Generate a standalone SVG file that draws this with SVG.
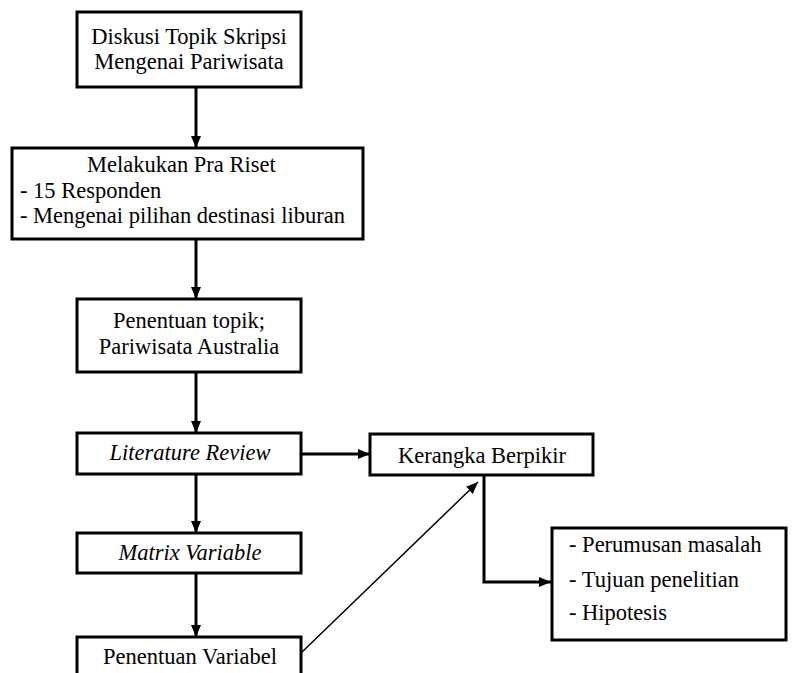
<svg xmlns="http://www.w3.org/2000/svg" width="792" height="673" viewBox="0 0 792 673">
<style>
.box{fill:#fff;stroke:#000;stroke-width:3}
.t{font-family:"Liberation Serif","Times New Roman",serif;font-size:22.5px;fill:#000}
.c{text-anchor:middle}
.i{font-style:italic}
.ln{fill:none;stroke:#000;stroke-width:3}
.thin{fill:none;stroke:#000;stroke-width:1.5}
</style>
<defs>
<marker id="ah" markerUnits="userSpaceOnUse" viewBox="0 0 12 10" refX="12" refY="5" markerWidth="12" markerHeight="10" orient="auto">
<path d="M0,0 L12,5 L0,10 Z" fill="#000"/>
</marker>
</defs>
<g id="connectors">
<path class="ln" d="M196,87 V148" marker-end="url(#ah)"/>
<path class="ln" d="M196,239 V299" marker-end="url(#ah)"/>
<path class="ln" d="M196,372 V433" marker-end="url(#ah)"/>
<path class="ln" d="M301,454 H370" marker-end="url(#ah)"/>
<path class="ln" d="M196,474 V533" marker-end="url(#ah)"/>
<path class="ln" d="M196,573 V637" marker-end="url(#ah)"/>
<path class="thin" d="M301,653 L478,482" marker-end="url(#ah)"/>
<path class="ln" d="M484,475 V582 H551" marker-end="url(#ah)"/>
</g>
<g id="n1">
<rect class="box" x="77" y="12" width="224" height="75"/>
<text class="t c" x="189" y="44">Diskusi Topik Skripsi</text>
<text class="t c" x="189" y="69">Mengenai Pariwisata</text>
</g>
<g id="n2">
<rect class="box" x="12" y="148" width="351" height="91"/>
<text class="t" x="87" y="172">Melakukan Pra Riset</text>
<text class="t" x="20" y="198">- 15 Responden</text>
<text class="t" x="20" y="223">- Mengenai pilihan destinasi liburan</text>
</g>
<g id="n3">
<rect class="box" x="77" y="299" width="224" height="73"/>
<text class="t c" x="189" y="328">Penentuan topik;</text>
<text class="t c" x="189" y="354">Pariwisata Australia</text>
</g>
<g id="n4">
<rect class="box" x="77" y="433" width="224" height="41"/>
<text class="t c i" x="190" y="460">Literature Review</text>
</g>
<g id="n5">
<rect class="box" x="370" y="434" width="223" height="41"/>
<text class="t c" x="482" y="463">Kerangka Berpikir</text>
</g>
<g id="n6">
<rect class="box" x="77" y="533" width="224" height="40"/>
<text class="t c i" x="190" y="560">Matrix Variable</text>
</g>
<g id="n7">
<rect class="box" x="77" y="637" width="224" height="50"/>
<text class="t c" x="190" y="664">Penentuan Variabel</text>
</g>
<g id="n8">
<rect class="box" x="552" y="528" width="234" height="112"/>
<text class="t" x="569" y="552">- Perumusan masalah</text>
<text class="t" x="569" y="587">- Tujuan penelitian</text>
<text class="t" x="569" y="620">- Hipotesis</text>
</g>
</svg>
